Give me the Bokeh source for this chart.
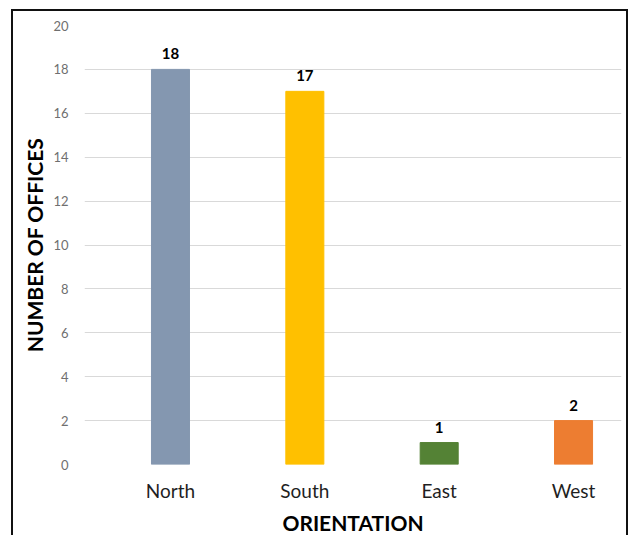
from bokeh.plotting import figure
from bokeh.models import ColumnDataSource, Range1d, LabelSet, FixedTicker
from bokeh.core.properties import value
from bokeh.embed import file_html
from bokeh.resources import INLINE

categories = ["North", "South", "East", "West"]
counts = [18, 17, 1, 2]
colors = ["#8497B0", "#FFC000", "#548235", "#ED7D31"]
y_ticks = [0, 2, 4, 6, 8, 10, 12, 14, 16, 18, 20]

xpos = list(range(len(categories)))
src = ColumnDataSource(dict(x=xpos, cat=categories, val=counts, color=colors,
                            lbl=[str(v) for v in counts]))

FONT = "Lato"
p = figure(x_range=Range1d(-0.64, 3.357), y_range=Range1d(0, 20),
           width=617, height=526, output_backend="svg", toolbar_location=None,
           min_border_left=71, min_border_right=9, min_border_top=14, min_border_bottom=72,
           margin=(9, 0, 0, 11))
p.styles = {"border-top": "2px solid #111", "border-left": "2px solid #111",
            "border-right": "2px solid #111", "box-sizing": "border-box"}
p.outline_line_color = None
p.vbar(x="x", top="val", width=0.283, color="color", source=src)

labels = LabelSet(x="x", y="val", text="lbl", source=src, y_offset=10,
                  text_align="center", text_baseline="bottom",
                  text_font=value(FONT), text_font_style="bold", text_font_size="15px",
                  text_color="#000000")
p.add_layout(labels)

p.xgrid.grid_line_color = None
p.ygrid.grid_line_color = "#D9D9D9"
p.ygrid.grid_line_width = 1
p.yaxis.ticker = FixedTicker(ticks=y_ticks)
p.xaxis.ticker = FixedTicker(ticks=xpos)
p.xaxis.major_label_overrides = {i: c for i, c in zip(xpos, categories)}

for ax in (p.xaxis[0], p.yaxis[0]):
    ax.axis_line_color = None
    ax.major_tick_line_color = None
    ax.minor_tick_line_color = None
    ax.axis_label_text_font = FONT
    ax.axis_label_text_font_style = "bold"
    ax.axis_label_text_font_size = "21px"
    ax.axis_label_text_color = "#000000"
    ax.major_label_text_font = FONT

p.yaxis.major_label_text_font_size = "13px"
p.yaxis.major_label_text_color = "#6F6F6F"
p.yaxis.major_label_standoff = 10
p.yaxis.axis_label = "NUMBER OF OFFICES"
p.yaxis.axis_label_standoff = 3

p.xaxis.major_label_text_font_size = "19px"
p.xaxis.major_label_text_color = "#1F1F1F"
p.xaxis.major_label_standoff = 8
p.xaxis.axis_label = "ORIENTATION"
p.xaxis.axis_label_standoff = 5

open("out.html", "w").write(file_html(p, INLINE))
